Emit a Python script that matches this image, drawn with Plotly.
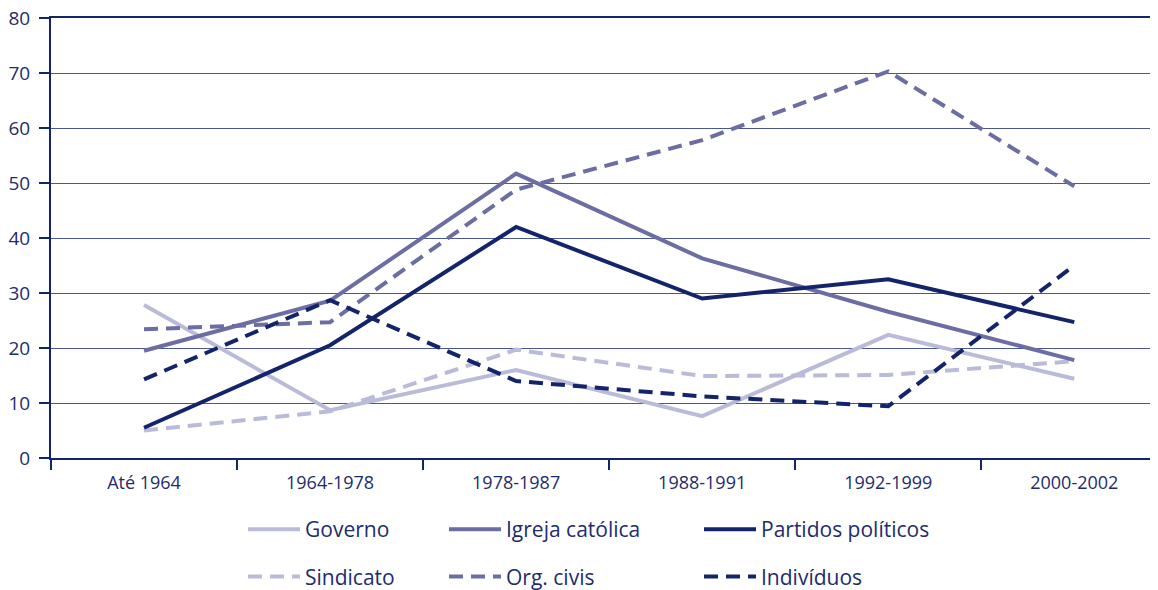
import plotly.graph_objects as go

categories = ["Até 1964", "1964-1978", "1978-1987", "1988-1991", "1992-1999", "2000-2002"]
governo = [27.8, 8.7, 16.0, 7.6, 22.4, 14.4]
igreja = [19.5, 28.6, 51.7, 36.3, 26.6, 17.8]
partidos = [5.5, 20.5, 42.0, 29.0, 32.5, 24.7]
sindicato = [5.0, 8.5, 19.7, 14.9, 15.1, 17.6]
org_civis = [23.4, 24.7, 48.8, 57.8, 70.3, 49.4]
individuos = [14.3, 28.7, 14.0, 11.2, 9.4, 35.0]
y_ticks = [0, 10, 20, 30, 40, 50, 60, 70, 80]

LIGHT = "#b9bbd8"
MID = "#6b6da3"
NAVY = "#14246a"
TEXT = "#1e2c6c"
DASH = "14px,8px"

series = [
    ("Governo", governo, LIGHT, "solid", "legend"),
    ("Sindicato", sindicato, LIGHT, DASH, "legend"),
    ("Igreja católica", igreja, MID, "solid", "legend2"),
    ("Org. civis", org_civis, MID, DASH, "legend2"),
    ("Partidos políticos", partidos, NAVY, "solid", "legend3"),
    ("Indivíduos", individuos, NAVY, DASH, "legend3"),
]

fig = go.Figure()
for name, vals, color, dash, leg in series:
    fig.add_trace(go.Scatter(
        x=categories, y=vals, name=name, mode="lines",
        line=dict(color=color, width=4, dash=dash),
        legend=leg, legendgroup=name,
    ))

leg_common = dict(
    orientation="v", xref="container", yref="container",
    xanchor="left", yanchor="top",
    font=dict(family="Open Sans", size=21, color=TEXT),
    tracegroupgap=17, itemwidth=52, bgcolor="rgba(0,0,0,0)",
)
row_top = 1 - 501 / 590
fig.update_layout(
    width=1158, height=590,
    margin=dict(l=43, r=8, t=10, b=140, autoexpand=False),
    paper_bgcolor="white", plot_bgcolor="white",
    showlegend=True,
    legend=dict(x=235 / 1158, y=row_top, **leg_common),
    legend2=dict(x=436 / 1158, y=row_top, **leg_common),
    legend3=dict(x=691 / 1158, y=row_top, **leg_common),
    font=dict(family="Open Sans", color=TEXT),
)
fig.update_xaxes(
    type="category", range=[-0.5, 5.45],
    showline=True, linecolor=NAVY, linewidth=2, mirror=True,
    ticks="outside", tickson="boundaries", ticklen=10, tickcolor=NAVY, tickwidth=1.5,
    showgrid=False, tickfont=dict(size=18, color=TEXT), tickangle=0,
    ticklabelstandoff=7, ticklabeloverflow="allow",
)
fig.update_yaxes(
    range=[0, 80], tickvals=y_ticks, showline=True, linecolor=NAVY, linewidth=2,
    ticks="outside", ticklen=10, tickcolor=NAVY, tickwidth=1.5,
    showgrid=True, gridcolor="#4b5793", gridwidth=1, zeroline=False,
    tickfont=dict(size=19, color=TEXT),
    ticklabelstandoff=5, ticklabeloverflow="allow",
)
fig.write_html("out.html")
